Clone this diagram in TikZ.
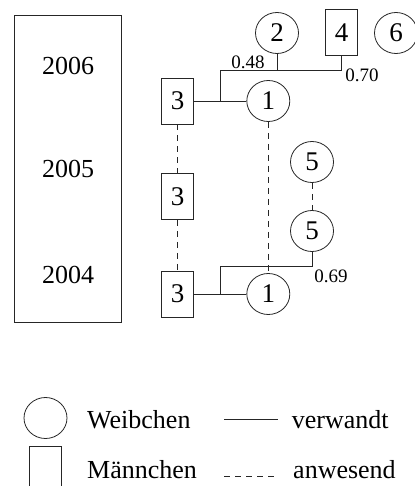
\documentclass[tikz,border=0pt]{standalone}
\usepackage{fontspec}
\setmainfont{Liberation Serif}
\usetikzlibrary{shapes.geometric, positioning}

\begin{document}
\begin{tikzpicture}[x=1pt, y=-1pt,
            fem/.style={ellipse, draw=black!85, line width=0.8pt, minimum width=43pt, minimum height=41pt, inner sep=0pt, font=\fontsize{27}{30}\selectfont},
            mal/.style={rectangle, draw=black!85, line width=0.8pt, minimum width=32pt, minimum height=46pt, inner sep=0pt, font=\fontsize{27}{30}\selectfont},
            rel/.style={draw=black!85, line width=0.8pt},
            pres/.style={draw=black!85, line width=0.8pt, dash pattern=on 6pt off 5pt},
            yr/.style={font=\fontsize{26}{30}\selectfont, inner sep=0pt},
            val/.style={font=\fontsize{19}{22}\selectfont, inner sep=0pt}]
            \useasboundingbox (0,0) rectangle (414,486);
            % years
            \node[draw=black!85, line width=0.8pt, minimum width=107pt, minimum height=307pt, inner sep=0pt] (frame) at (67.5,168.5) {};
            \node[yr, anchor=base] (y6) at (68,75) {2006};
            \node[yr, anchor=base] (y5) at (68,178) {2005};
            \node[yr, anchor=base] (y4) at (68,283) {2004};
            % animals
            \node[mal] (m3a) at (177.5,101)  {3};
            \node[mal] (m3b) at (177.5,196.5) {3};
            \node[mal] (m3c) at (177.5,294)  {3};
            \node[fem] (f1a) at (268.3,101)  {1};
            \node[fem] (f1b) at (268.3,294)  {1};
            \node[fem] (f2)  at (277,33)     {2};
            \node[mal] (m4)  at (341.5,32.5) {4};
            \node[fem] (f6)  at (396,33)     {6};
            \node[fem] (f5a) at (312,162)    {5};
            \node[fem] (f5b) at (312,231)    {5};
            % relations
            \coordinate (ja) at (220.7,101);
            \coordinate (ta) at (220.7,70);
            \coordinate (jb) at (220.7,294);
            \coordinate (tb) at (220.7,266.7);
            \draw[rel] (m3a.east) -- (f1a.west);
            \draw[rel] (ja) -- (ta) -| (m4.south);
            \draw[rel] (f2.south) -- (f2.south |- ta);
            \draw[rel] (m3c.east) -- (f1b.west);
            \draw[rel] (jb) -- (tb) -| (f5b.south);
            \node[val, anchor=base] (r48) at (248,68.3)  {0.48};
            \node[val, anchor=base] (r70) at (362,81.7)  {0.70};
            \node[val, anchor=base] (r69) at (331,282.7) {0.69};
            % presence
            \draw[pres] (m3a.south) -- (m3b.north) (m3b.south) -- (m3c.north);
            \draw[pres] (f1a.south) -- (f1b.north);
            \draw[pres] (f5a.south) -- (f5b.north);
            % legend
            \node[fem] (lf) at (45.5,418) {};
            \node[mal] (lm) at (45.5,469) {};
            \node[yr, anchor=base west] (lfw) at (87,428.3) {Weibchen};
            \node[yr, anchor=base west] (lmw) at (87,478) {Männchen};
            \coordinate (ls1) at (224,419.3);
            \coordinate (ls2) at (278,419.3);
            \coordinate (ld1) at (224,476.7);
            \coordinate (ld2) at (278,476.7);
            \draw[rel] (ls1) -- (ls2);
            \draw[pres] (ld1) -- (ld2);
            \node[yr, anchor=base west] (lrel) at (291.7,428.3) {verwandt};
            \node[yr, anchor=base west] (lpres) at (293,478) {anwesend};
        \end{tikzpicture}
\end{document}
